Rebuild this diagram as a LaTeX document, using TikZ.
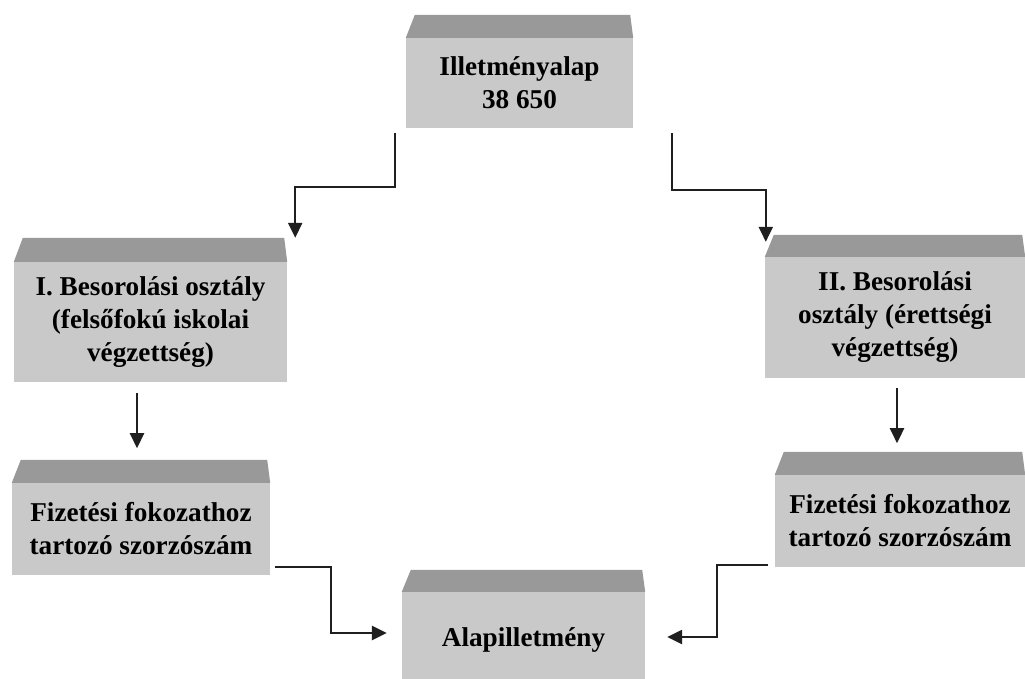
\documentclass[tikz,border=0pt]{standalone}
\usepackage{fontspec}
\setmainfont{Liberation Serif}
\usetikzlibrary{arrows.meta,calc}
\begin{document}
\begin{tikzpicture}[x=1pt,y=-1pt,
  box/.style={fill=black!21, draw=none, inner sep=0pt, align=center,
    font=\bfseries\fontsize{27.2}{33}\selectfont, text=black},
  bevel/.style={fill=black!40, draw=none},
  conn/.style={draw=black!88, line width=2.5pt, -{Triangle[width=14pt,length=15pt]}}]
\useasboundingbox (0,0) rectangle (1025,678);
\clip (0,0) rectangle (1025,678);
% boxes (front faces)
\node[box, minimum width=227pt, minimum height=90pt] (T) at (519.5,83) {Illetményalap\\38 650};
\node[box, minimum width=273pt, minimum height=120pt] (I) at (150.5,322) {I. Besorolási osztály\\(felsőfokú iskolai\\végzettség)};
\node[box, minimum width=260pt, minimum height=121pt] (II) at (895,317.5) {II. Besorolási\\osztály (érettségi\\végzettség)};
\node[box, minimum width=258pt, minimum height=92pt] (FL) at (141,529) {Fizetési fokozathoz\\tartozó szorzószám};
\node[box, minimum width=250pt, minimum height=92pt] (FR) at (900,521) {Fizetési fokozathoz\\tartozó szorzószám};
\node[box, minimum width=243pt, minimum height=96pt] (B) at (523.5,640) {Alapilletmény};
% top bevels
\foreach \n/\h in {T/23,I/24,II/22,FL/23,FR/23,B/22}{
  \fill[bevel] (\n.north west) -- ([shift={(9,-\h)}]\n.north west)
    -- ([shift={(-3,-\h)}]\n.north east) -- (\n.north east) -- cycle;
}
% connectors
\draw[conn] ([shift={(-11,5)}]T.south west) -- ++(0,54) -| ([shift={(8,-24)}]I.north east);
\draw[conn] ([shift={(39,5)}]T.south east) -- ++(0,57) -| ([shift={(1,-15)}]II.north west);
\draw[conn] ([shift={(-13.5,11)}]I.south) -- ++(0,55);
\draw[conn] ([shift={(2,10)}]II.south) -- ++(0,55);
\draw[conn] ([shift={(5,-8)}]FL.south east) -- ++(56,0) |- ([shift={(-15,-7)}]B.west);
\draw[conn] ([shift={(-7,-2)}]FR.south west) -- ++(-51,0) |- ([shift={(22,-3)}]B.east);
\end{tikzpicture}
\end{document}
